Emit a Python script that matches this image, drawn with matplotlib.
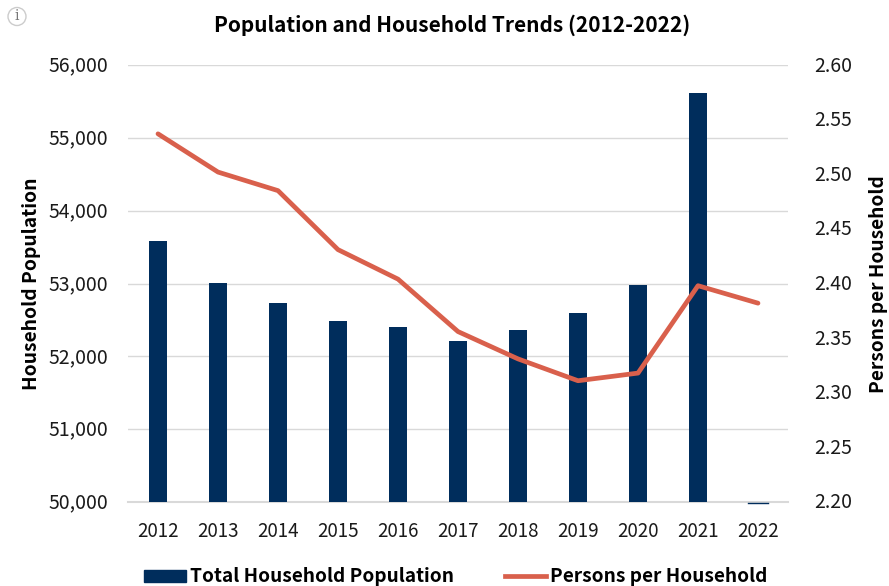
import matplotlib
matplotlib.use("Agg")
import matplotlib.pyplot as plt
from matplotlib.lines import Line2D
from matplotlib.patches import Circle, Rectangle
from matplotlib.transforms import ScaledTranslation

plt.rcParams['font.family'] = ['Noto Sans CJK SC', 'DejaVu Sans']

years = ['2012', '2013', '2014', '2015', '2016', '2017', '2018', '2019', '2020', '2021', '2022']
population = [53590, 53010, 52730, 52490, 52400, 52210, 52360, 52600, 52980, 55620, 50000]
persons = [2.537, 2.502, 2.485, 2.431, 2.404, 2.356, 2.331, 2.311, 2.318, 2.398, 2.382]

navy = '#002d5c'
red = '#d9604c'
grey = '#d9d9d9'
ink = '#1a1a1a'

fig = plt.figure(figsize=(8.89, 5.86), dpi=100)
ax0 = fig.add_axes([128 / 889, 1 - 502 / 586, (788 - 128) / 889, (502 - 65) / 586])
ax1 = ax0.twinx()

x = range(len(years))
ax0.bar(x, population, width=0.31, color=navy, zorder=3)
ax0.plot([9.83, 10.17], [49985, 49985], color=navy, lw=1, zorder=3, clip_on=False)
ax1.plot(x, persons, color=red, lw=3.4, solid_capstyle='round', zorder=4)

ax0.set_xlim(-0.5, 10.5)
ax0.set_ylim(50000, 56000)
ax1.set_ylim(2.20, 2.60)
ax0.set_xticks(list(x))
ax0.set_xticklabels(years)
ax0.set_yticks(range(50000, 56001, 1000))
ax0.set_yticklabels(['{:,}'.format(v) for v in range(50000, 56001, 1000)])
ax1.set_yticks([2.20 + 0.05 * i for i in range(9)])
ax1.set_yticklabels(['{:.2f}'.format(2.20 + 0.05 * i) for i in range(9)])

ax0.grid(axis='y', color=grey, lw=1, zorder=0)
ax0.set_axisbelow(True)
for ax in (ax0, ax1):
    for s in ax.spines.values():
        s.set_visible(False)
ax0.spines['bottom'].set_visible(True)
ax0.spines['bottom'].set_color(grey)
ax0.spines['bottom'].set_linewidth(1.5)
ax0.tick_params(axis='x', length=0, labelsize=13.5, labelcolor=ink, pad=14)
ax0.tick_params(axis='y', length=0, labelsize=14, labelcolor=ink, pad=14)
ax1.tick_params(axis='y', length=0, labelsize=14, labelcolor=ink, pad=19)

# nudge y tick labels up a little
nudge = ScaledTranslation(0, 1.5 / 100, fig.dpi_scale_trans)
for lab in ax0.get_yticklabels() + ax1.get_yticklabels():
    lab.set_transform(lab.get_transform() + nudge)

fig.text(452 / 889, 1 - 25 / 586, 'Population and Household Trends (2012-2022)',
         ha='center', va='center', fontsize=15, fontweight='bold', color='black')
fig.text(32 / 889, 1 - 284 / 586, 'Household Population', rotation=90,
         ha='center', va='center', fontsize=13.9, fontweight='bold', color='black')
fig.text(878 / 889, 1 - 284 / 586, 'Persons per Household', rotation=90,
         ha='center', va='center', fontsize=13.8, fontweight='bold', color='black')

# legend drawn by hand to sit partly cut off at the bottom edge
fig.add_artist(Rectangle((144 / 889, 1 - 582 / 586), 42 / 889, 12 / 586,
                         transform=fig.transFigure, color=navy))
fig.text(190 / 889, 1 - 577 / 586, 'Total Household Population', ha='left', va='center',
         fontsize=13.7, fontweight='bold', color='black')
fig.add_artist(Line2D([505 / 889, 546 / 889], [1 - 576 / 586, 1 - 576 / 586],
                      transform=fig.transFigure, color=red, lw=3.4))
fig.text(550 / 889, 1 - 577 / 586, 'Persons per Household', ha='left', va='center',
         fontsize=13.7, fontweight='bold', color='black')

# small info icon top left
fig.add_artist(Circle((0.17, 5.86 - 0.165), 0.09, transform=fig.dpi_scale_trans,
                      facecolor='white', edgecolor='#cccccc', lw=1))
fig.text(17 / 889, 1 - 16.5 / 586, 'i', ha='center', va='center', fontsize=10,
         family='DejaVu Serif', color='#777777')

fig.savefig('out.png', dpi=100)
